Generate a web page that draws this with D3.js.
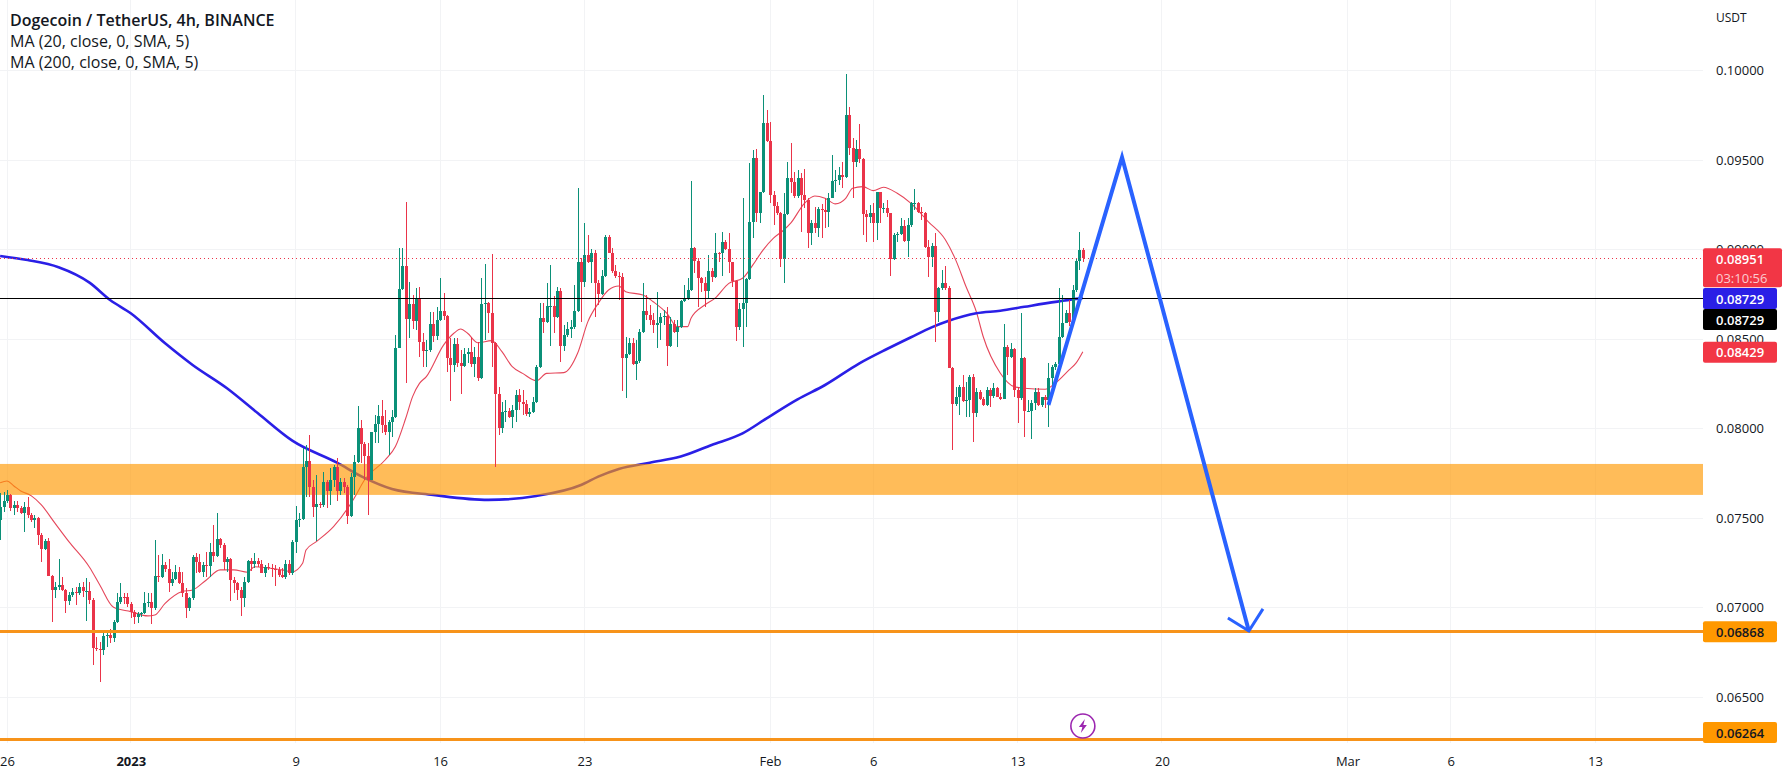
<!DOCTYPE html>
<html><head><meta charset="utf-8">
<script src="https://cdnjs.cloudflare.com/ajax/libs/d3/7.8.5/d3.min.js"></script>
<style>html,body{margin:0;padding:0;background:#fff;overflow:hidden}svg{display:block}text{font-family:"Open Sans",sans-serif}</style>
</head><body><svg id="c" width="1788" height="778"></svg>
<script>
// prices stored in units of 0.00001
const PRICE_UNIT = 1e-5;
const firstOpen = 7489;
const closes = [7560,7597,7629,7554,7573,7554,7526,7563,7517,7489,7500,7405,7327,7372,7178,7098,7117,7126,7098,7038,7070,7087,7079,7113,7090,7092,7042,6772,6768,6765,6843,6847,6828,6921,7029,7061,7057,7020,6977,6945,6964,6968,7027,7031,6997,7178,7172,7238,7213,7139,7161,7199,7139,7079,6996,7051,7284,7256,7200,7238,7232,7312,7290,7383,7349,7256,7271,7154,7135,7098,7051,7144,7260,7243,7260,7241,7195,7228,7223,7215,7210,7182,7172,7241,7191,7364,7489,7493,7783,7819,7675,7563,7576,7571,7699,7653,7712,7787,7653,7701,7675,7511,7731,7815,8001,7913,7846,7712,7979,8025,8070,8020,7982,8038,8062,
8448,8777,8908,8612,8695,8601,8727,8485,8435,8437,8582,8519,8606,8656,8630,8392,8355,8472,8368,8349,8414,8427,8358,8401,8280,8695,8703,8647,8479,8193,8001,8094,8100,8066,8103,8187,8150,8137,8081,8090,8150,8345,8615,8597,8684,8686,8625,8770,8463,8522,8558,8565,8656,8932,8820,8969,8932,8982,8811,8751,8852,9072,8982,8882,8852,8848,8392,8416,8476,8360,8379,8541,8656,8634,8606,8578,8587,8625,8630,8463,8584,8541,8565,8712,8722,8774,9006,
8938,8843,8811,8770,8882,8849,8983,8979,9044,9001,8929,8826,8569,8666,8700,8834,9156,9510,9206,9320,9705,9608,9305,9245,9202,8946,9199,9398,9376,9299,9398,9305,9277,9094,9147,9122,9227,9221,9208,9290,9385,9389,9417,9407,9752,9566,9487,9560,9504,9197,9180,9202,9150,9320,9230,9234,9202,8946,9081,9085,9134,9048,9137,9258,9260,9212,9206,9016,8960,9020,8653,8784,8815,8784,8337,
8137,8175,8234,8156,8158,8286,8085,8206,8165,8132,8216,8182,8225,8178,8165,8454,8402,8443,8216,8169,8393,8095,8100,8141,8206,8132,8175,8160,8281,8346,8361,8510,8592,8644,8597,8774,8933,8998,8951];
const highs = [7638,7647,7657,7634,7597,7597,7567,7591,7616,7526,7517,7508,7414,7381,7390,7182,7144,7271,7169,7102,7089,7107,7113,7135,7141,7163,7144,7051,6837,6809,6874,6874,6878,6930,7079,7139,7079,7079,7033,6986,6977,6977,7087,7079,7079,7377,7293,7297,7256,7271,7200,7238,7228,7200,7107,7061,7293,7303,7299,7256,7312,7359,7461,7526,7390,7359,7284,7275,7172,7144,7117,7172,7266,7275,7303,7275,7266,7238,7247,7243,7238,7225,7219,7266,7266,7377,7567,7526,7889,7908,7964,7712,7740,7591,7759,7712,7778,7796,7833,7722,7722,7684,7750,7852,8126,8048,7927,7917,7982,8075,8131,8159,8103,8050,8103,
8522,9006,9006,9263,8820,8746,8783,8792,8532,8494,8653,8653,8681,8839,8755,8634,8504,8504,8504,8439,8448,8448,8513,8457,8485,8843,8919,8709,8973,8485,8234,8150,8159,8113,8131,8215,8219,8215,8159,8113,8178,8355,8699,8699,8811,8913,8740,8789,8783,8578,8597,8606,8802,9342,8951,9146,9081,9001,8997,8830,8885,9081,9081,9006,8913,8876,8867,8513,8504,8504,8494,8554,8815,8746,8690,8643,8764,8643,8662,8677,8625,8606,8606,8718,8802,8839,9383,
9016,8951,8849,8849,8970,8895,9094,8988,9100,9054,9091,8932,8830,8700,9286,8839,9482,9556,9560,9324,9863,9780,9715,9329,9268,9212,9314,9491,9594,9435,9445,9426,9448,9286,9165,9240,9240,9255,9286,9314,9528,9445,9463,9491,9981,9798,9621,9612,9702,9510,9221,9249,9258,9324,9324,9258,9277,9206,9091,9100,9175,9165,9175,9268,9336,9268,9240,9212,9054,9035,9091,8790,8886,8908,8797,
8346,8234,8244,8299,8262,8299,8305,8225,8216,8178,8234,8225,8253,8231,8197,8584,8467,8480,8448,8234,8644,8402,8160,8160,8225,8225,8178,8188,8365,8355,8374,8784,8746,8662,8718,8802,8951,9096,9007];
const lows = [7377,7536,7582,7541,7517,7536,7521,7424,7498,7480,7442,7349,7256,7321,7178,6921,7051,7098,7094,6968,7014,7061,7014,7070,7061,6927,7020,6679,6759,6586,6735,6781,6800,6809,6912,7020,7020,7005,6940,6908,6915,6945,6964,7005,6908,6986,7144,7163,7200,7089,7122,7154,7131,7061,6940,6982,7042,7191,7191,7172,7172,7172,7256,7284,7331,7210,7200,7038,7079,7042,6953,7005,7135,7206,7219,7228,7191,7172,7210,7172,7122,7172,7163,7158,7182,7182,7303,7452,7489,7619,7619,7504,7373,7554,7563,7554,7573,7675,7597,7629,7638,7467,7504,7629,7805,7805,7712,7517,7712,7917,7917,7973,7964,7852,7954,
8057,8494,8774,8252,8504,8554,8550,8401,8345,8345,8429,8485,8494,8601,8606,8317,8154,8317,8345,8193,8342,8364,8345,8290,8267,8275,8494,8532,8345,7783,7964,7973,8038,8057,8001,8038,8103,8075,8070,8062,8085,8141,8336,8532,8587,8461,8535,8615,8373,8433,8513,8504,8554,8653,8597,8792,8923,8811,8625,8690,8746,8848,8978,8867,8839,8718,8211,8168,8411,8355,8271,8364,8532,8606,8578,8532,8452,8494,8578,8349,8457,8532,8453,8560,8709,8718,8770,
8867,8677,8765,8681,8728,8821,8839,8932,8852,8998,8867,8793,8491,8551,8454,8566,8830,9063,9156,9147,9314,9603,9258,9137,9193,8905,8815,9193,9314,9286,9286,9100,9230,9007,9026,9091,9072,9063,9119,9128,9286,9324,9361,9342,9402,9528,9286,9459,9482,9081,9044,9147,9044,9054,9147,9202,9184,8854,8942,9044,9081,9044,8960,9128,9221,9202,9165,9007,8845,8905,8486,8597,8774,8774,8337,
7880,8123,8076,8150,8067,8063,7927,8067,8160,8123,8123,8119,8169,8175,8160,8163,8299,8393,8178,8033,8160,7955,8091,7940,8104,8126,8119,8113,8007,8234,8327,8355,8504,8588,8573,8588,8765,8886,8932];

const ma20Bars = [0,2,4,6,9,12,16,20,26,29,33,38,43,45,48,53,56,60,64,68,72,74,82,85,88,89,92,97,103,106,112,115,118,120,122,124,129,132,134,136,139,143,146,149,152,156,159,164,168,171,174,177,180,182,187,190,194,197,200,201,205,208,212,216,219,222,225,228,230,234,237,240,243,246,248,251,254,257,261,265,270,275,278,281,284,286,291,295,298,304,307,311,313,315];
const ma20Values = [7697,7707,7679,7651,7625,7573,7470,7368,7225,7126,7001,6977,6953,6958,7023,7089,7098,7154,7210,7210,7197,7228,7210,7200,7247,7321,7368,7452,7610,7712,7824,7899,8057,8178,8252,8290,8466,8532,8556,8532,8479,8491,8429,8345,8308,8267,8308,8312,8420,8597,8699,8774,8796,8764,8746,8708,8643,8569,8569,8616,8690,8728,8811,8839,8914,8998,9063,9109,9147,9258,9299,9286,9255,9286,9342,9351,9329,9348,9314,9258,9156,9054,8942,8793,8653,8514,8309,8234,8225,8219,8253,8327,8365,8429];
const ma200Bars = [0,8,17,26,32,38,48,56,66,75,85,98,106,114,126,142,156,169,174,180,189,198,207,216,223,232,240,250,258,265,271,276,284,291,298,313,315];
const ma200Values = [8964,8941,8901,8815,8718,8644,8476,8355,8225,8085,7932,7809,7724,7662,7629,7601,7623,7684,7731,7774,7809,7843,7908,7973,8057,8163,8243,8364,8444,8510,8565,8602,8644,8658,8680,8724,8729];

const forecastBars = [305,326.4,363.3];
const forecastPrices = [8131,9515,6869];
const headBars = [357.2,363.3,367.4];
const headPrices = [6941,6869,6992];

const priceTicks = [0.065,0.07,0.075,0.08,0.085,0.09,0.095,0.10];
const timeTicks = [["2022-12-26","26"],["2023-01-01","2023"],["2023-01-09","9"],["2023-01-16","16"],["2023-01-23","23"],["2023-02-01","Feb"],["2023-02-06","6"],["2023-02-13","13"],["2023-02-20","20"],["2023-03-01","Mar"],["2023-03-06","6"],["2023-03-13","13"]];
const legendLines = ["Dogecoin / TetherUS, 4h, BINANCE","MA (20, close, 0, SMA, 5)","MA (200, close, 0, SMA, 5)"];
const supportZone = [0.07802,0.07629];
const levelOrange = [0.06868,0.06264];
const levelBlack = 0.08729, lastPrice = 0.08951, ma20Last = 0.08429, ma200Last = 0.08729;
const countdown = "03:10:56";

const UP="#0B9078", DOWN="#EA3449", ORANGE="#F7931A";
const plotRight=1703;
const svg=d3.select("#c");
const y=d3.scaleLinear().domain([0.07,0.10]).range([607.5,70.5]);
const x=d3.scaleUtc().domain([new Date("2022-12-26T00:00Z"),new Date("2023-03-13T00:00Z")]).range([7,1595]);
const barTime=i=>new Date(Date.UTC(2022,11,25,16)+i*4*3600e3);
const bx=i=>x(barTime(i));
const tickDate=d=>new Date(d+"T00:00Z");

// grid
const grid=svg.append("g").attr("stroke","#f2f3f5").attr("stroke-width",1).attr("shape-rendering","crispEdges");
grid.selectAll(".h").data(priceTicks).join("line").attr("x1",0).attr("x2",plotRight).attr("y1",d=>y(d)).attr("y2",d=>y(d));
grid.selectAll(".v").data(timeTicks).join("line").attr("x1",d=>x(tickDate(d[0]))).attr("x2",d=>x(tickDate(d[0]))).attr("y1",0).attr("y2",743);

// moving averages sit under the drawn zone
const maLine=d3.line().x(d=>bx(d[0])).y(d=>y(d[1]*PRICE_UNIT)).curve(d3.curveMonotoneX);
svg.append("path").attr("d",maLine(d3.zip(ma20Bars,ma20Values))).attr("fill","none").attr("stroke","#E5465A").attr("stroke-width",1.1);
svg.append("path").attr("d",maLine(d3.zip(ma200Bars,ma200Values))).attr("fill","none").attr("stroke","#2A1FE6").attr("stroke-width",2.6);

// zone
svg.append("rect").attr("x",0).attr("width",plotRight).attr("y",y(supportZone[0])).attr("height",y(supportZone[1])-y(supportZone[0])).attr("fill","#FF9800").attr("opacity",0.65);

// candles
const opens=[firstOpen,...closes.slice(0,-1)];
const bars=closes.map((c,i)=>({i,o:opens[i]*PRICE_UNIT,c:c*PRICE_UNIT,h:highs[i]*PRICE_UNIT,l:lows[i]*PRICE_UNIT}));
const cg=svg.append("g").attr("shape-rendering","crispEdges");
const col=d=>d.c>=d.o?UP:DOWN;
cg.selectAll(".w").data(bars).join("line")
 .attr("x1",d=>Math.round(bx(d.i))+.5).attr("x2",d=>Math.round(bx(d.i))+.5)
 .attr("y1",d=>y(d.h)).attr("y2",d=>y(d.l)).attr("stroke",col);
cg.selectAll(".b").data(bars).join("rect")
 .attr("x",d=>Math.round(bx(d.i))-1).attr("width",3)
 .attr("y",d=>y(Math.max(d.o,d.c))).attr("height",d=>Math.max(1,Math.abs(y(d.o)-y(d.c)))).attr("fill",col);

// drawn levels
svg.selectAll(".lvl").data(levelOrange).join("line").attr("x1",0).attr("x2",plotRight).attr("y1",d=>y(d)).attr("y2",d=>y(d)).attr("stroke",ORANGE).attr("stroke-width",3).attr("shape-rendering","crispEdges");
svg.append("line").attr("x1",0).attr("x2",plotRight).attr("y1",y(levelBlack)).attr("y2",y(levelBlack)).attr("stroke","#000").attr("stroke-width",1).attr("shape-rendering","crispEdges");
svg.append("line").attr("x1",0).attr("x2",plotRight).attr("y1",y(lastPrice)).attr("y2",y(lastPrice)).attr("stroke",DOWN).attr("stroke-width",1).attr("stroke-dasharray","1 3").attr("shape-rendering","crispEdges");

// forecast arrow
const fLine=d3.line().x(d=>bx(d[0])).y(d=>y(d[1]*PRICE_UNIT));
svg.append("path").attr("d",fLine(d3.zip(forecastBars,forecastPrices))).attr("fill","none").attr("stroke","#2962FF").attr("stroke-width",4).attr("stroke-linejoin","miter");
svg.append("path").attr("d",fLine(d3.zip(headBars,headPrices))).attr("fill","none").attr("stroke","#2962FF").attr("stroke-width",3);

// axes
const yAxis=d3.axisRight(y).tickValues(priceTicks).tickSize(0).tickPadding(0).tickFormat(d3.format(".5f"));
const ya=svg.append("g").attr("transform","translate(1716,0)").call(yAxis);
ya.select(".domain").remove();
ya.selectAll("text").attr("fill","#131722").style("font-size","13px").style("font-family",'"Open Sans",sans-serif');
const xAxis=d3.axisBottom(x).tickValues(timeTicks.map(d=>tickDate(d[0]))).tickSize(0).tickPadding(0).tickFormat((d,i)=>timeTicks[i][1]);
const xa=svg.append("g").attr("transform","translate(0,757)").call(xAxis);
xa.select(".domain").remove();
xa.selectAll("text").attr("fill","#131722").style("font-size","13px").style("font-family",'"Open Sans",sans-serif').style("font-weight",d=>+d===+tickDate("2023-01-01")?"700":"400");
svg.append("text").attr("x",1716).attr("y",22).attr("font-size",12).attr("fill","#131722").text("USDT");

// legend
svg.selectAll(".lg").data(legendLines).join("text").attr("x",10).attr("y",(d,i)=>26+i*21).attr("font-size",16).attr("font-weight",(d,i)=>i?400:600).attr("fill","#131722").text(d=>d);

// price badges
function badge(yTop,h,w,fill,txt,txtCol){
 svg.append("rect").attr("x",1703).attr("y",yTop).attr("width",w).attr("height",h).attr("rx",2).attr("fill",fill);
 txt.forEach((t,i)=>svg.append("text").attr("x",1716).attr("y",yTop+15.5+i*19).attr("font-size",13).attr("font-weight",i?400:600).attr("fill",i?"rgba(255,255,255,.75)":txtCol).text(t));
}
const f5=d3.format(".5f");
badge(y(lastPrice)-10,39,79,"#F23645",[f5(lastPrice),countdown],"#fff");
badge(y(ma200Last)-10,21,74,"#2A1FE6",[f5(ma200Last)],"#fff");
badge(y(levelBlack)+11,21,74,"#000",[f5(levelBlack)],"#fff");
badge(y(ma20Last)-10,21,74,"#F23645",[f5(ma20Last)],"#fff");
badge(y(levelOrange[0])-10,21,74,"#FF9800",[f5(levelOrange[0])],"#131722");
badge(722,21,74,"#FF9800",[f5(levelOrange[1])],"#131722");

// lightning marker
const mark=svg.append("g").attr("transform",`translate(${bx(315)},726)`);
mark.append("circle").attr("r",12).attr("fill","#fff").attr("stroke","#9C27B0").attr("stroke-width",1.6);
mark.append("path").attr("d","M2,-7 L-4,1 L-0.5,1 L-2,7 L4,-1 L0.5,-1 Z").attr("fill","#9C27B0");
</script></body></html>
